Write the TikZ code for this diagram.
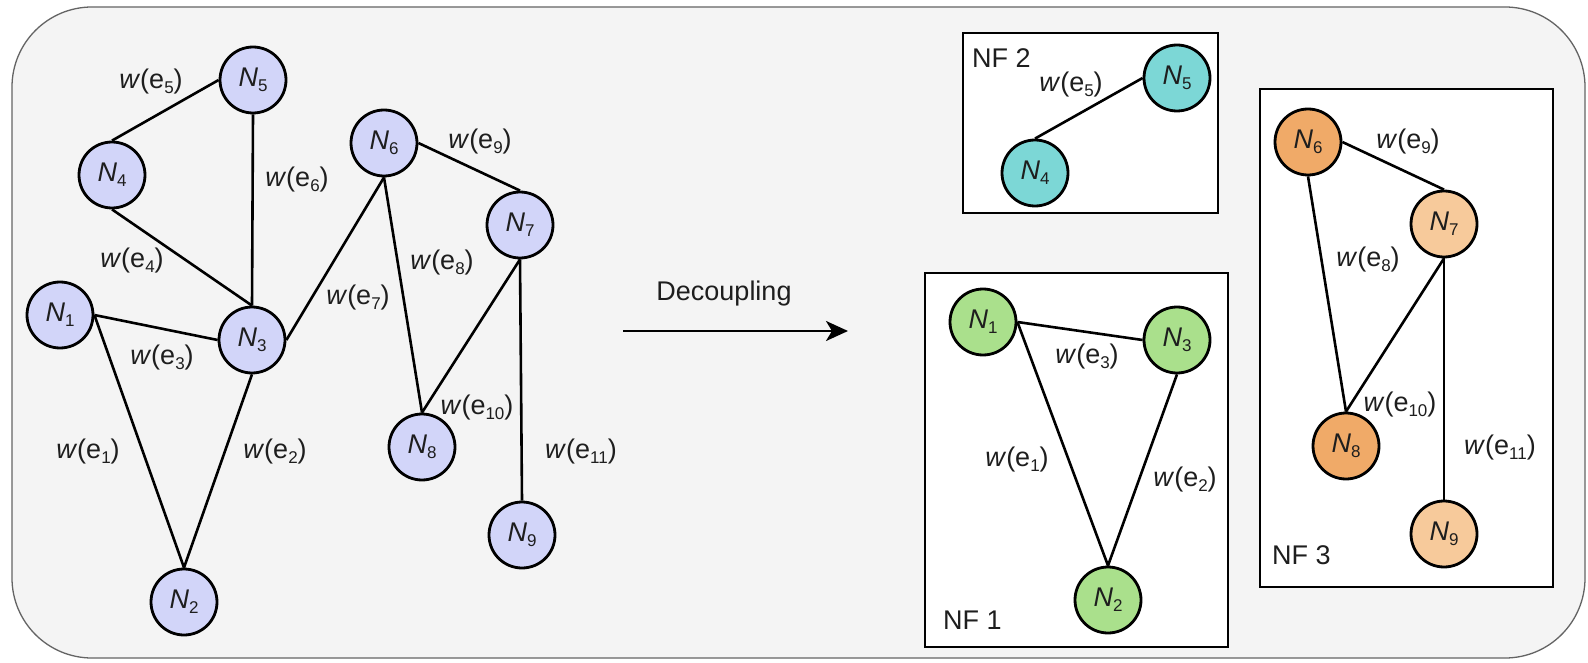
\documentclass[tikz,border=0pt]{standalone}
\usepackage{fontspec}
\setmainfont{Liberation Sans}
\usetikzlibrary{arrows.meta}

\definecolor{panelbg}{RGB}{244,244,244}
\definecolor{panelline}{RGB}{100,100,100}
\definecolor{lav}{RGB}{210,213,249}
\definecolor{cyanfill}{RGB}{124,215,214}
\definecolor{greenfill}{RGB}{170,224,140}
\definecolor{orangedark}{RGB}{240,170,104}
\definecolor{orangelight}{RGB}{247,202,155}
\definecolor{ink}{RGB}{30,30,30}

% node label N_i and edge weight w(e_i)
\newcommand{\nlab}[1]{\textit{N}\lower5pt\hbox{\fontsize{17}{17}\selectfont #1}}
\newcommand{\wlab}[1]{\textit{w}(e\lower5pt\hbox{\fontsize{17}{17}\selectfont #1})}

\begin{document}
\begin{tikzpicture}[x=1pt,y=-1pt,
  every node/.style={font=\fontsize{27}{32}\selectfont, text=ink},
  vert/.style={circle, draw=black, line width=2.8pt, minimum size=66pt, inner sep=0pt},
  lav vert/.style={vert, fill=lav},
  cyan vert/.style={vert, fill=cyanfill},
  green vert/.style={vert, fill=greenfill},
  odark vert/.style={vert, fill=orangedark},
  olight vert/.style={vert, fill=orangelight},
  edge/.style={draw=black, line width=2.6pt},
  lbl/.style={inner sep=0pt},
  nfbox/.style={draw=black, line width=2.8pt, fill=white},
  arrowline/.style={draw=black, line width=2.6pt, -{Stealth[length=22pt,width=20pt,inset=6pt]}}
]
\useasboundingbox (0,0) rectangle (1588,663);

% background panel
\draw[rounded corners=80pt, fill=panelbg, draw=panelline, line width=1.3pt]
  (12,7) rectangle (1585,658);

% ---------- original graph ----------
\node[lav vert] (N1) at (60,315)  {\nlab{1}};
\node[lav vert] (N2) at (184,602) {\nlab{2}};
\node[lav vert] (N3) at (252,340) {\nlab{3}};
\node[lav vert] (N4) at (112,175) {\nlab{4}};
\node[lav vert] (N5) at (253,80)  {\nlab{5}};
\node[lav vert] (N6) at (384,143) {\nlab{6}};
\node[lav vert] (N7) at (520,225) {\nlab{7}};
\node[lav vert] (N8) at (422,447) {\nlab{8}};
\node[lav vert] (N9) at (522,535) {\nlab{9}};

\draw[edge] (N4.north) -- (N5.west);
\draw[edge] (N5.south) -- (N3.north);
\draw[edge] (N4.south) -- (N3.north);
\draw[edge] (N1.east) -- (N3.west);
\draw[edge] (N1.east) -- (N2.north);
\draw[edge] (N3.south) -- (N2.north);
\draw[edge] (N3.east) -- (N6.south);
\draw[edge] (N6.east) -- (N7.north);
\draw[edge] (N6.south) -- (N8.north);
\draw[edge] (N7.south) -- (N8.north);
\draw[edge] (N7.south) -- (N9.north);

\node[lbl] (w1)  at (88,452)  {\wlab{1}};
\node[lbl] (w2)  at (275,452) {\wlab{2}};
\node[lbl] (w3)  at (162,358) {\wlab{3}};
\node[lbl] (w4)  at (132,261) {\wlab{4}};
\node[lbl] (w5)  at (151,82)  {\wlab{5}};
\node[lbl] (w6)  at (297,180) {\wlab{6}};
\node[lbl] (w7)  at (358,298) {\wlab{7}};
\node[lbl] (w8)  at (442,263) {\wlab{8}};
\node[lbl] (w9)  at (480,142) {\wlab{9}};
\node[lbl] (w10) at (477,408) {\wlab{10}};
\node[lbl] (w11) at (581,452) {\wlab{11}};

% ---------- decoupling arrow ----------
\coordinate (arrS) at (623,331);
\coordinate (arrE) at (848,331);
\draw[arrowline] (arrS) -- (arrE);
\node[lbl] (dec) at (724,294) {Decoupling};

% ---------- NF 2 ----------
\draw[nfbox] (963,33) rectangle (1218,213);
\node[lbl, anchor=west] (nf2) at (972,58) {NF 2};
\node[cyan vert] (a4) at (1035,173) {\nlab{4}};
\node[cyan vert] (a5) at (1177,78)  {\nlab{5}};
\draw[edge] (a4.north) -- (a5.west);
\node[lbl] (v5) at (1071,85) {\wlab{5}};

% ---------- NF 1 ----------
\draw[nfbox] (925,273) rectangle (1228,647);
\node[lbl, anchor=west] (nf1) at (943,620) {NF 1};
\node[green vert] (b1) at (983,322)  {\nlab{1}};
\node[green vert] (b2) at (1108,600) {\nlab{2}};
\node[green vert] (b3) at (1177,340) {\nlab{3}};
\draw[edge] (b1.east) -- (b3.west);
\draw[edge] (b1.east) -- (b2.north);
\draw[edge] (b3.south) -- (b2.north);
\node[lbl] (v3) at (1087,357) {\wlab{3}};
\node[lbl] (v1) at (1017,460) {\wlab{1}};
\node[lbl] (v2) at (1185,480) {\wlab{2}};

% ---------- NF 3 ----------
\draw[nfbox] (1260,89) rectangle (1553,587);
\node[lbl, anchor=west] (nf3) at (1272,555) {NF 3};
\node[odark vert]  (c6) at (1308,142) {\nlab{6}};
\node[olight vert] (c7) at (1444,224) {\nlab{7}};
\node[odark vert]  (c8) at (1346,446) {\nlab{8}};
\node[olight vert] (c9) at (1444,534) {\nlab{9}};
\draw[edge] (c6.east) -- (c7.north);
\draw[edge] (c6.south) -- (c8.north);
\draw[edge] (c7.south) -- (c8.north);
\draw[edge] (c7.south) -- (c9.north);
\node[lbl] (v9)  at (1408,142) {\wlab{9}};
\node[lbl] (v8)  at (1368,260) {\wlab{8}};
\node[lbl] (v10) at (1400,405) {\wlab{10}};
\node[lbl] (v11) at (1500,448) {\wlab{11}};
\end{tikzpicture}
\end{document}
